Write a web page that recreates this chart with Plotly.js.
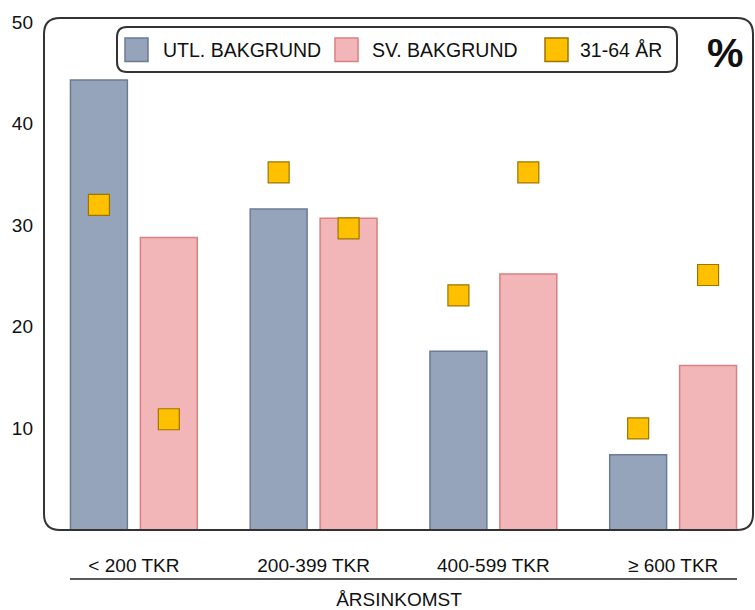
<!DOCTYPE html>
<html>
<head>
<meta charset="utf-8">
<script src="https://cdn.plot.ly/plotly-3.0.1.min.js"></script>
<style>html,body{margin:0;padding:0;background:#fff;}#chart{width:755px;height:610px;}</style>
</head>
<body>
<div id="chart"></div>
<script>
// ---- data ----
const categories = ['< 200 TKR', '200-399 TKR', '400-599 TKR', '≥ 600 TKR'];
const utlBakgrund = [44.3, 31.6, 17.6, 7.4];
const svBakgrund = [28.8, 30.7, 25.2, 16.2];
const age3164Utl = [32.0, 35.2, 23.1, 10.0];
const age3164Sv = [10.9, 29.7, 35.2, 25.1];
const seriesNames = ['UTL. BAKGRUND', 'SV. BAKGRUND', '31-64 ÅR'];
const yTicks = [10, 20, 30, 40, 50];
const xTitle = 'ÅRSINKOMST';
const unitLabel = '%';

// ---- styling ----
const FONT = 'Liberation Sans, Arial, sans-serif';
const TXT = '#111';
const BLUE = '#95a4bb', BLUE_LINE = '#6b7b97';
const PINK = '#f3b6b8', PINK_LINE = '#d88082';
const GOLD = '#ffc000', GOLD_LINE = '#9a7600';
const W = 755, H = 610, ML = 44, MR = 1, MT = 18, MB = 80;
const PL = ML, PR = W - MR, PT = MT, PB = H - MB;
const px = x => (x - PL) / (PR - PL);
const py = y => (PB - y) / (PB - PT);

function roundRect(x0, y0, x1, y1, r) {
  const P = (x, y) => px(x).toFixed(5) + ',' + py(y).toFixed(5);
  return 'M' + P(x0 + r, y0) + ' L' + P(x1 - r, y0) + ' Q' + P(x1, y0) + ' ' + P(x1, y0 + r) +
    ' L' + P(x1, y1 - r) + ' Q' + P(x1, y1) + ' ' + P(x1 - r, y1) +
    ' L' + P(x0 + r, y1) + ' Q' + P(x0, y1) + ' ' + P(x0, y1 - r) +
    ' L' + P(x0, y0 + r) + ' Q' + P(x0, y0) + ' ' + P(x0 + r, y0) + ' Z';
}

const traces = [
  { type: 'bar', x: categories, y: utlBakgrund, name: seriesNames[0],
    offsetgroup: 'g1', alignmentgroup: 'all',
    marker: { color: BLUE, line: { color: BLUE_LINE, width: 1.5 } }, hoverinfo: 'y' },
  { type: 'bar', x: categories, y: svBakgrund, name: seriesNames[1],
    offsetgroup: 'g2', alignmentgroup: 'all',
    marker: { color: PINK, line: { color: PINK_LINE, width: 1.5 } }, hoverinfo: 'y' },
  { type: 'scatter', mode: 'markers', x: categories, y: age3164Utl, name: seriesNames[2],
    legendgroup: 'age', offsetgroup: 'g1', alignmentgroup: 'all',
    marker: { symbol: 'square', size: 21, color: GOLD, line: { color: GOLD_LINE, width: 1.2 } } },
  { type: 'scatter', mode: 'markers', x: categories, y: age3164Sv, name: seriesNames[2],
    legendgroup: 'age', offsetgroup: 'g2', alignmentgroup: 'all', showlegend: false,
    marker: { symbol: 'square', size: 21, color: GOLD, line: { color: GOLD_LINE, width: 1.2 } } }
];

// legend (drawn manually for exact swatch size)
const legendItems = [
  { sx: 125, tx: 161, fill: BLUE, line: BLUE_LINE, name: seriesNames[0] },
  { sx: 335, tx: 370, fill: PINK, line: PINK_LINE, name: seriesNames[1] },
  { sx: 545, tx: 578, fill: GOLD, line: GOLD_LINE, name: seriesNames[2] }
];

const shapes = [
  { type: 'path', xref: 'paper', yref: 'paper', path: roundRect(44, 18, 753, 530, 16),
    line: { color: '#333', width: 2 }, layer: 'above' },
  { type: 'path', xref: 'paper', yref: 'paper', path: roundRect(117, 27, 677, 72, 10),
    line: { color: '#333', width: 2 }, fillcolor: '#fff', layer: 'above' },
  { type: 'line', xref: 'paper', yref: 'paper', x0: px(70), x1: px(737), y0: py(579), y1: py(579),
    line: { color: '#222', width: 1.5 } }
];
const annotations = [];
legendItems.forEach(it => {
  shapes.push({ type: 'rect', xref: 'paper', yref: 'paper', x0: px(it.sx), x1: px(it.sx + 23),
    y0: py(61.5), y1: py(38), fillcolor: it.fill, line: { color: it.line, width: 1.5 }, layer: 'above' });
  annotations.push({ xref: 'paper', yref: 'paper', x: px(it.tx), y: py(50), xanchor: 'left', yanchor: 'middle',
    text: it.name, showarrow: false, font: { family: FONT, size: 19.5, color: TXT } });
});
annotations.push({ xref: 'paper', yref: 'paper', x: px(725), y: py(53), xanchor: 'center', yanchor: 'middle',
  text: '<b>' + unitLabel + '</b>', showarrow: false, font: { family: FONT, size: 41, color: '#111' } });

const layout = {
  width: W, height: H,
  margin: { l: ML, r: MR, t: MT, b: MB, pad: 0 },
  paper_bgcolor: '#fff', plot_bgcolor: '#fff',
  font: { family: FONT, color: TXT },
  showlegend: false,
  barmode: 'group', bargap: 0.222, bargroupgap: 0.186,
  scattermode: 'group', scattergap: 0.222,
  xaxis: {
    type: 'category', range: [-0.5, 3.45], showgrid: false, zeroline: false, showline: false,
    ticks: '', ticklabelstandoff: 22, tickfont: { family: FONT, size: 19, color: TXT },
    title: { text: xTitle, standoff: 17, font: { family: FONT, size: 19, color: TXT } },
    automargin: false, fixedrange: true
  },
  yaxis: {
    range: [0, 50.4], tickvals: yTicks, showgrid: false, zeroline: false, showline: false,
    ticks: '', ticklabelstandoff: 10, tickfont: { family: FONT, size: 19, color: TXT },
    automargin: false, fixedrange: true
  },
  shapes: shapes,
  annotations: annotations
};

Plotly.newPlot('chart', traces, layout, { displayModeBar: false, staticPlot: true });
</script>
</body>
</html>
